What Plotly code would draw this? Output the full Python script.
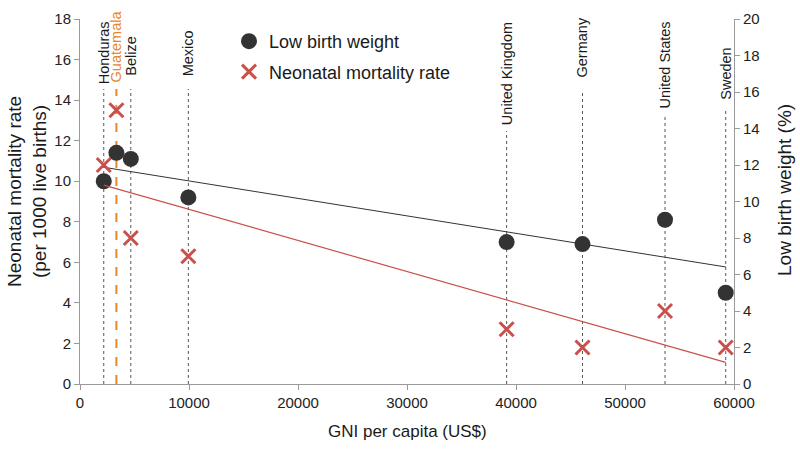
import numpy as np
import plotly.graph_objects as go

# ---- data ----
countries = ["Honduras", "Guatemala", "Belize", "Mexico",
             "United Kingdom", "Germany", "United States", "Sweden"]
gni = [2180, 3340, 4660, 9940, 39140, 46100, 53670, 59240]
low_birth_weight = [10.0, 11.4, 11.1, 9.2, 7.0, 6.9, 8.1, 4.5]
neonatal_mortality = [12, 15, 8, 7, 3, 2, 4, 2]

x_ticks = [0, 10000, 20000, 30000, 40000, 50000, 60000]

# ---- layout helpers (pixel geometry of the plot area) ----
W, H = 800, 449
L, R, T, B = 80, 66, 19, 65
PW, PH = W - L - R, H - T - B

def py(px_y):
    """pixel y (from top of image) -> paper y"""
    return (H - B - px_y) / PH

def pxx(px_x):
    return (px_x - L) / PW

# label bottom (pixel y) and line top (pixel y) for each country label
label_bottom = [86, 84, 78, 78, 127, 79, 111, 102]
line_top = [89, 89, 89, 89, 131, 92, 114, 108]

RED = "#c9504b"
DARK = "#333333"
ORANGE = "#e8862a"
FONT = "Liberation Sans, Arial, sans-serif"

fig = go.Figure()

# trend lines (least squares)
xs = np.array(gni, dtype=float)
xline = np.array([xs.min(), xs.max()])
b1 = np.polyfit(xs, np.array(low_birth_weight), 1)
b2 = np.polyfit(xs, np.array(neonatal_mortality, dtype=float), 1)

fig.add_trace(go.Scatter(x=xline, y=np.polyval(b1, xline), mode="lines",
                         line=dict(color=DARK, width=1), showlegend=False,
                         hoverinfo="skip"))
fig.add_trace(go.Scatter(x=xline, y=np.polyval(b2, xline), mode="lines",
                         line=dict(color=RED, width=1.2), showlegend=False,
                         yaxis="y2", hoverinfo="skip"))

fig.add_trace(go.Scatter(x=gni, y=low_birth_weight, mode="markers",
                         name="Low birth weight", legendgroup="a",
                         marker=dict(symbol="circle", size=16, color=DARK,
                                     line=dict(width=0))))
fig.add_trace(go.Scatter(x=gni, y=neonatal_mortality, mode="markers",
                         name="Neonatal mortality rate", legendgroup="b",
                         yaxis="y2",
                         marker=dict(symbol="x-thin", size=14,
                                     line=dict(width=3, color=RED), color=RED)))

shapes = []
annotations = []
for i, c in enumerate(countries):
    is_g = c == "Guatemala"
    shapes.append(dict(type="line", xref="x", yref="paper",
                       x0=gni[i], x1=gni[i], y0=0, y1=py(line_top[i]),
                       line=dict(color=ORANGE if is_g else "#555555",
                                 width=2 if is_g else 1,
                                 dash="dash" if is_g else "dot"),
                       layer="below"))
    annotations.append(dict(x=gni[i], xref="x", y=py(label_bottom[i]),
                            yref="paper", text=c, textangle=-90,
                            showarrow=False, xanchor="center",
                            yanchor="bottom",
                            font=dict(size=14.5, family=FONT,
                                      color=ORANGE if is_g else "#1a1a1a")))

# axis titles
annotations.append(dict(x=pxx(27), y=py(192), xref="paper", yref="paper",
                        text="Neonatal mortality rate<br>(per 1000 live births)",
                        textangle=-90, showarrow=False, xanchor="center",
                        yanchor="middle",
                        font=dict(size=19, family=FONT, color="#1a1a1a")))
annotations.append(dict(x=pxx(784), y=py(190), xref="paper", yref="paper",
                        text="Low birth weight (%)", textangle=-90,
                        showarrow=False, xanchor="center", yanchor="middle",
                        font=dict(size=19, family=FONT, color="#1a1a1a")))
annotations.append(dict(x=pxx(407), y=py(432), xref="paper", yref="paper",
                        text="GNI per capita (US$)", showarrow=False,
                        xanchor="center", yanchor="middle",
                        font=dict(size=17, family=FONT, color="#1a1a1a")))

axis_common = dict(showgrid=False, zeroline=False, showline=True,
                   linecolor="#9a9a9a", linewidth=1, ticks="outside",
                   ticklen=5, tickcolor="#9a9a9a", automargin=False,
                   tickfont=dict(size=15, family=FONT, color="#222222"))

fig.update_layout(
    width=W, height=H,
    margin=dict(l=L, r=R, t=T, b=B, autoexpand=False),
    paper_bgcolor="white", plot_bgcolor="white",
    font=dict(family=FONT),
    xaxis=dict(range=[0, 60000], tickvals=x_ticks,
               ticktext=[str(v) for v in x_ticks], **axis_common),
    yaxis=dict(range=[0, 18], dtick=2, **axis_common),
    yaxis2=dict(range=[0, 20], dtick=2, overlaying="y", side="right",
                **axis_common),
    legend=dict(x=pxx(229), y=py(23), xanchor="left", yanchor="top",
                font=dict(size=18, family=FONT, color="#1a1a1a"),
                bgcolor="rgba(0,0,0,0)", traceorder="grouped",
                tracegroupgap=4, itemwidth=30),
    shapes=shapes,
    annotations=annotations,
    showlegend=True,
)

fig.write_html("out.html",
               config={"displayModeBar": False},
               post_script="document.body.style.margin='0';"
                           "document.body.style.padding='0';"
                           "document.body.style.overflow='hidden';")
